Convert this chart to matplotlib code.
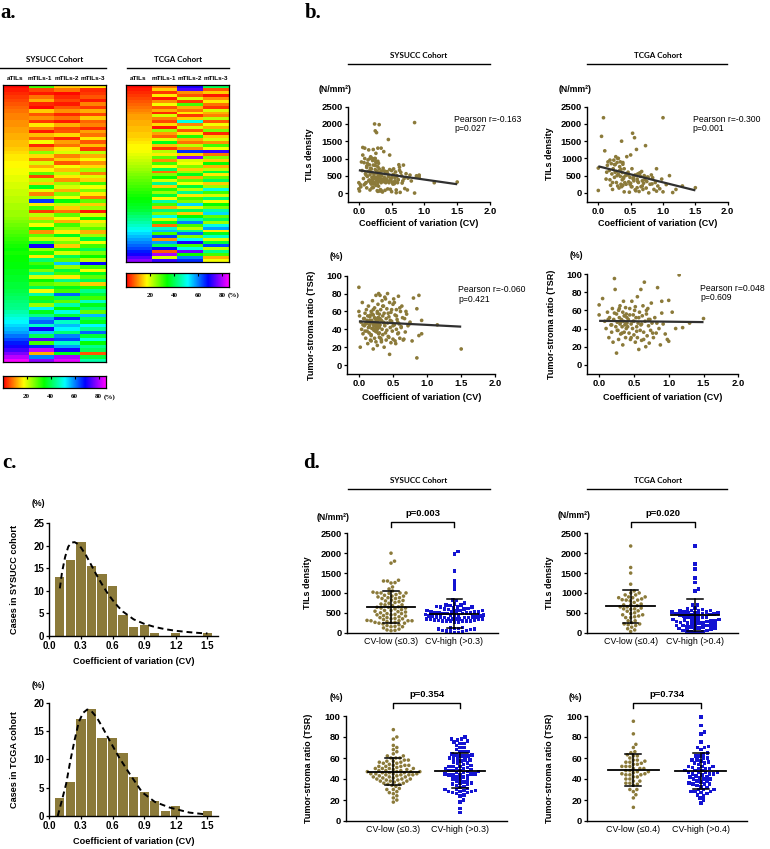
import numpy as np
import matplotlib
matplotlib.use("Agg")
import matplotlib.pyplot as plt
from matplotlib.colors import ListedColormap, hsv_to_rgb
from matplotlib.lines import Line2D
import matplotlib.transforms as mtransforms

plt.rcParams['font.family'] = ['Liberation Sans', 'DejaVu Sans']

# ======================= DATA =======================
heat_columns = ["aTILs", "mTILs-1", "mTILs-2", "mTILs-3"]

sys_atils = [1, 2, 3, 4, 5, 6, 7, 8,
             9, 9, 10, 10, 11, 11, 12, 12, 13, 13, 14, 15,
             16, 16, 17, 17, 18, 18, 19, 19,
             20, 20, 21, 21, 22, 22, 23, 23, 24, 24,
             25, 26, 27, 28, 29, 30, 31, 32, 33, 34,
             33, 34, 34, 35, 35, 36, 36, 37, 37, 38, 38, 39,
             40, 41, 42, 43, 44, 46, 48, 50,
             52, 54, 56, 58, 61, 64,
             67, 70, 73, 77, 81, 85]
sys_m1 = [30, 5, 2, 8, 12, 3, 1, 14, 6, 10, 4, 16, 9, 2, 13, 7, 18, 3, 11, 25,
          15, 8, 20, 12, 17, 28, 5, 22, 14, 36, 19, 9, 24, 65, 16, 30, 4, 22, 13, 26,
          18, 34, 10, 28, 21, 38, 70, 24, 32, 16, 42, 30, 36, 26, 44, 20, 34, 28, 40, 18,
          46, 32, 38, 24, 52, 36, 44, 58, 62, 48, 70, 55, 40, 74, 30, 66, 82, 12, 60, 78]
sys_m2 = [14, 8, 1, 3, 5, 2, 6, 10, 3, 8, 2, 12, 5, 6, 15, 3, 11, 8, 16, 20,
          9, 14, 6, 18, 13, 22, 16, 10, 24, 20, 12, 26, 18, 35, 22, 14, 8, 28, 18, 12,
          30, 24, 16, 36, 20, 26, 14, 32, 20, 40, 28, 55, 24, 38, 30, 16, 44, 26, 36, 30,
          62, 40, 28, 46, 34, 50, 38, 66, 48, 56, 52, 42, 60, 64, 48, 58, 70, 36, 80, 84]
sys_m3 = [16, 3, 4, 6, 2, 9, 4, 12, 5, 14, 7, 9, 3, 11, 8, 16, 6, 13, 4, 22,
          12, 18, 10, 15, 24, 9, 20, 14, 30, 18, 26, 16, 8, 28, 14, 24, 2, 20, 34, 16,
          22, 28, 12, 24, 38, 18, 30, 40, 26, 34, 22, 68, 30, 18, 36, 28, 40, 14, 32, 44,
          38, 30, 48, 36, 42, 28, 56, 40, 36, 52, 44, 62, 38, 50, 34, 44, 40, 6, 38, 46]

tcga_atils = [1, 2, 3, 4, 5, 6, 7, 8, 9, 10, 11, 11, 12, 12, 13, 13, 14, 14, 15, 16,
              17, 17, 18, 19, 20, 21, 22, 23, 24, 25, 26, 27, 28, 29, 30, 31, 32, 33, 34, 35,
              36, 37, 38, 40, 42, 44, 46, 48, 50, 52, 54, 56, 58, 60, 62, 64, 67, 70, 74, 78]
tcga_m1 = [8, 14, 4, 16, 2, 10, 18, 6, 12, 3, 20, 9, 5, 15, 2, 24, 11, 7, 19, 36,
           13, 4, 22, 16, 28, 10, 30, 18, 40, 8, 26, 34, 20, 44, 14, 32, 24, 38, 18, 46,
           30, 12, 42, 26, 50, 20, 36, 8, 48, 56, 30, 64, 10, 58, 40, 68, 6, 80, 20, 72]
tcga_m2 = [70, 74, 10, 6, 20, 4, 30, 12, 8, 16, 4, 14, 50, 9, 20, 6, 16, 32, 12, 8,
           22, 10, 66, 14, 78, 20, 18, 26, 14, 24, 36, 12, 28, 18, 38, 22, 44, 16, 30, 26,
           54, 20, 40, 14, 34, 46, 60, 30, 22, 44, 62, 26, 52, 70, 30, 50, 76, 34, 60, 66]
tcga_m3 = [40, 6, 14, 2, 10, 16, 8, 4, 20, 12, 9, 22, 6, 18, 12, 26, 3, 14, 20, 10,
           30, 18, 72, 8, 26, 14, 34, 12, 22, 38, 16, 28, 40, 14, 24, 50, 30, 20, 42, 18,
           34, 26, 46, 54, 28, 40, 24, 50, 58, 16, 36, 48, 20, 38, 64, 22, 44, 30, 12, 18]

colorbar_ticks = [20, 40, 60, 80]

# SYSUCC cohort: CV, TILs density (N/mm2), tumor-stroma ratio (%)
sys_cv = [0.00, 0.00, 0.01, 0.02, 0.03, 0.04, 0.05, 0.06, 0.07, 0.08,
          0.09, 0.10, 0.10, 0.11, 0.12, 0.12, 0.13, 0.14, 0.14, 0.15,
          0.16, 0.16, 0.17, 0.17, 0.18, 0.18, 0.19, 0.19, 0.20, 0.20,
          0.21, 0.21, 0.22, 0.22, 0.23, 0.23, 0.24, 0.24, 0.25, 0.25,
          0.25, 0.26, 0.26, 0.27, 0.27, 0.27, 0.28, 0.28, 0.28, 0.29,
          0.29, 0.29, 0.30, 0.30, 0.30, 0.30, 0.27, 0.24, 0.21, 0.18,
          0.31, 0.31, 0.32, 0.32, 0.33, 0.33, 0.34, 0.34, 0.35, 0.35,
          0.36, 0.36, 0.37, 0.37, 0.38, 0.38, 0.39, 0.40, 0.40, 0.41,
          0.42, 0.42, 0.43, 0.44, 0.45, 0.45, 0.46, 0.47, 0.47, 0.48,
          0.49, 0.50, 0.50, 0.51, 0.52, 0.53, 0.54, 0.55, 0.55, 0.56,
          0.57, 0.58, 0.59, 0.60, 0.61, 0.62, 0.63, 0.65, 0.67, 0.68,
          0.70, 0.72, 0.75, 0.78, 0.85, 0.85, 0.88, 0.92, 1.15, 1.50,
          0.06, 0.08, 0.09, 0.11, 0.13, 0.15, 0.16, 0.18, 0.19, 0.20,
          0.21, 0.22, 0.23, 0.24, 0.25, 0.26, 0.27, 0.28, 0.29, 0.30,
          0.12, 0.17, 0.22, 0.26, 0.29,
          0.31, 0.33, 0.35, 0.37, 0.39, 0.41, 0.43, 0.44, 0.46, 0.48,
          0.50, 0.52, 0.53, 0.55, 0.57, 0.58, 0.60, 0.62, 0.64, 0.66,
          0.69, 0.74, 0.80, 0.88, 0.92]
sys_tils = [120, 300, 60, 250, 180, 900, 650, 1320, 420, 880,
            1000, 560, 280, 300, 740, 150, 480, 960, 620, 350,
            640, 820, 90, 530, 300, 700, 260, 1020, 450, 600,
            330, 380, 810, 160, 990, 540, 2000, 300, 1000, 680,
            1800, 220, 920, 460, 1750, 580, 70, 240, 400, 760,
            920, 310, 860, 500, 200, 450, 640, 430, 350, 720,
            350, 1980, 60, 600, 100, 420, 300, 1300, 640, 500,
            30, 380, 350, 720, 1200, 330, 450, 80, 560, 400,
            580, 400, 340, 120, 480, 1550, 300, 1100, 680, 420,
            380, 40, 650, 310, 520, 540, 270, 440, 350, 610,
            90, 480, 300, 390, 820, 750, 20, 500, 350, 810,
            130, 560, 430, 520, 2040, 0, 500, 460, 300, 320,
            1100, 240, 1300, 520, 860, 1250, 380, 1050, 700, 150,
            940, 1260, 480, 1000, 800, 1150, 360, 620, 1300, 560,
            780, 1000, 260, 880, 50,
            700, 520, 60, 400, 640, 300, 620, 560, 350, 110,
            450, 260, 700, 320, 10, 500, 380, 660, 600, 290,
            420, 90, 350, 480, 520]
sys_tsr = [87, 60, 55, 20, 48, 40, 70, 35, 52, 44,
           58, 30, 46, 62, 38, 50, 24, 42, 66, 36,
           54, 45, 28, 48, 60, 33, 50, 41, 72, 47,
           18, 56, 39, 44, 64, 30, 46, 52, 26, 43,
           78, 49, 37, 58, 40, 22, 53, 45, 68, 35,
           47, 80, 42, 31, 57, 44, 50, 38, 62, 27,
           45, 78, 30, 62, 50, 26, 72, 40, 55, 34,
           66, 48, 20, 58, 44, 76, 36, 52, 28, 63,
           47, 80, 32, 54, 12, 70, 42, 25, 59, 49,
           38, 68, 29, 74, 45, 56, 24, 62, 40, 51,
           35, 77, 46, 30, 60, 43, 66, 28, 52, 37,
           57, 44, 48, 27, 63, 8, 78, 35, 45, 18,
           45, 52, 38, 47, 55, 43, 50, 34, 48, 57,
           41, 46, 53, 39, 49, 44, 60, 42, 51, 36,
           47, 56, 45, 40, 53,
           52, 28, 66, 47, 74, 39, 58, 31, 50, 62,
           44, 70, 27, 55, 48, 36, 64, 42, 53, 29,
           60, 46, 75, 33, 50]

# TCGA cohort
tcga_cv = [0.00, 0.00, 0.05, 0.08, 0.10, 0.12, 0.14, 0.15, 0.17, 0.18,
           0.19, 0.20, 0.21, 0.22, 0.23, 0.24, 0.25, 0.25, 0.26, 0.27,
           0.28, 0.28, 0.29, 0.30, 0.30, 0.31, 0.32, 0.33, 0.34, 0.34,
           0.35, 0.35, 0.36, 0.37, 0.37, 0.38, 0.38, 0.39, 0.40, 0.40,
           0.42, 0.43, 0.44, 0.45, 0.46, 0.47, 0.48, 0.49, 0.50, 0.50,
           0.51, 0.52, 0.53, 0.54, 0.55, 0.55, 0.56, 0.57, 0.58, 0.59,
           0.60, 0.60, 0.61, 0.62, 0.63, 0.64, 0.65, 0.66, 0.67, 0.68,
           0.69, 0.70, 0.71, 0.72, 0.73, 0.74, 0.75, 0.76, 0.78, 0.80,
           0.82, 0.84, 0.86, 0.88, 0.90, 0.92, 0.95, 0.98, 1.00, 1.00,
           1.05, 1.10, 1.15, 1.30, 1.50,
           0.13, 0.18, 0.22, 0.26, 0.29, 0.31, 0.33, 0.36, 0.38, 0.39,
           0.41, 0.44, 0.46, 0.49, 0.52, 0.54, 0.57, 0.61, 0.64, 0.68,
           0.71, 0.77, 0.83, 0.90, 1.20]
tcga_tils = [720, 70, 1640, 2180, 1220, 400, 800, 900, 650, 380,
             220, 850, 550, 100, 700, 950, 450, 820, 600, 1050,
             300, 620, 880, 200, 1000, 540, 140, 760, 480, 900,
             250, 680, 1500, 380, 590, 220, 830, 420, 30, 700,
             500, 250, 1050, 560, 600, 320, 20, 450, 280, 1100,
             180, 700, 1730, 420, 350, 480, 1600, 520, 60, 1260,
             400, 150, 550, 300, 40, 580, 480, 180, 620, 350,
             100, 280, 500, 380, 1370, 140, 330, 460, 0, 250,
             520, 440, 100, 300, 700, 200, 120, 400, 2180, 30,
             240, 500, 10, 200, 150,
             600, 950, 300, 820, 500, 1000, 650, 180, 880, 450,
             300, 540, 520, 250, 180, 400, 90, 330, 560, 200,
             470, 450, 260, 50, 100]
tcga_tsr = [66, 55, 73, 48, 40, 58, 30, 52, 44, 36,
            62, 25, 50, 95, 83, 42, 13, 56, 47, 38,
            60, 28, 52, 45, 65, 34, 50, 42, 58, 22,
            48, 70, 36, 54, 44, 30, 63, 40, 52, 46,
            50, 35, 62, 28, 45, 70, 40, 55, 33, 48,
            60, 25, 52, 42, 75, 30, 46, 17, 58, 38,
            83, 44, 27, 54, 65, 36, 91, 48, 20, 56,
            32, 62, 43, 24, 50, 38, 68, 46, 30, 52,
            35, 85, 40, 22, 70, 45, 34, 28, 71, 26,
            58, 40, 99, 46, 51,
            50, 44, 57, 38, 62, 47, 35, 54, 45, 56,
            42, 55, 30, 48, 64, 37, 52, 45, 28, 60,
            50, 35, 46, 57, 41]

sys_cut, tcga_cut = 0.3, 0.4

# Histograms (percentage of cases per CV bin)
hist_bins = [0.1, 0.2, 0.3, 0.4, 0.5, 0.6, 0.7, 0.8, 0.9, 1.0, 1.1, 1.2, 1.3, 1.4, 1.5]
sys_hist = [13.1, 16.9, 20.8, 15.4, 13.7, 11.0, 4.5, 1.8, 2.3, 0.6, 0, 0.6, 0, 0, 0.6]
tcga_hist = [3.1, 6.0, 17.2, 18.9, 13.7, 13.7, 11.2, 6.9, 4.3, 2.6, 0.85, 1.7, 0, 0, 0.85]
sys_fit_x = [0.10, 0.12, 0.15, 0.18, 0.21, 0.24, 0.27, 0.30, 0.35, 0.40, 0.45, 0.50,
             0.55, 0.60, 0.65, 0.70, 0.80, 0.90, 1.00, 1.10, 1.20, 1.30, 1.40, 1.50]
sys_fit_y = [10.5, 14.0, 17.5, 19.8, 20.7, 20.8, 20.4, 19.6, 17.8, 15.6, 13.4, 11.4,
             9.5, 7.9, 6.5, 5.3, 3.6, 2.6, 1.9, 1.4, 1.05, 0.8, 0.6, 0.45]
tcga_fit_x = [0.08, 0.12, 0.16, 0.20, 0.24, 0.28, 0.32, 0.36, 0.40, 0.45, 0.50, 0.57,
              0.66, 0.76, 0.88, 1.00, 1.14, 1.33, 1.48]
tcga_fit_y = [0.0, 2.8, 5.7, 9.8, 13.4, 16.6, 18.2, 18.8, 18.5, 17.4, 15.8, 13.4,
              10.4, 7.5, 4.2, 2.5, 1.5, 0.6, 0.3]

cv_ticks = [0.0, 0.5, 1.0, 1.5, 2.0]
hist_ticks = [0.0, 0.3, 0.6, 0.9, 1.2, 1.5]
tils_ticks = [0, 500, 1000, 1500, 2000, 2500]
tsr_ticks = [0, 20, 40, 60, 80, 100]

OLIVE = '#8B7A3A'
BLUE = '#1414D2'

# ======================= FIGURE =======================
W, H = 770, 849
fig = plt.figure(figsize=(W / 100, H / 100), dpi=100)


def add_ax(x0, y0, x1, y1):
    return fig.add_axes([x0 / W, 1 - y1 / H, (x1 - x0) / W, (y1 - y0) / H])


def ftext(x, y, s, **kw):
    kw.setdefault('ha', 'center')
    kw.setdefault('va', 'center')
    fig.text(x / W, 1 - y / H, s, **kw)


def fhline(x0, x1, y, lw=1.0):
    fig.add_artist(Line2D([x0 / W, x1 / W], [1 - y / H, 1 - y / H], color='black',
                          lw=lw, transform=fig.transFigure))


def prism(ax, xlim, ylim, xt, xl, yt, yl, size=6.8):
    ax.set_xlim(*xlim)
    ax.set_ylim(*ylim)
    for s in ('top', 'right'):
        ax.spines[s].set_visible(False)
    for s in ('left', 'bottom'):
        ax.spines[s].set_linewidth(1.0)
    ax.spines['left'].set_bounds(ylim[0], yt[-1])
    ax.set_xticks(xt)
    ax.set_xticklabels(xl)
    ax.set_yticks(yt)
    ax.set_yticklabels(yl)
    ax.tick_params(length=2.4, width=0.9, pad=1.4, labelsize=size)
    for lab in ax.get_xticklabels() + ax.get_yticklabels():
        lab.set_fontweight('bold')
    ax.patch.set_alpha(0)


# ---------- colormap (red -> magenta) ----------
hues = np.linspace(0, 300 / 360, 256)
cmap = ListedColormap(hsv_to_rgb(np.stack([hues, np.ones(256), np.ones(256)], axis=1)))
VMIN, VMAX = 0, 86


def heatmap(box, cols, labels_y, col_lab_x, cbar_box, cbar_lab_y, pct_x):
    ax = add_ax(*box)
    ax.imshow(np.column_stack(cols), aspect='auto', cmap=cmap, vmin=VMIN, vmax=VMAX,
              interpolation='nearest')
    ax.set_xticks([])
    ax.set_yticks([])
    for s in ax.spines.values():
        s.set_linewidth(0.9)
    for name, cx in zip(heat_columns, col_lab_x):
        ftext(cx, labels_y, name, fontsize=4.6, fontweight='bold')
    cax = add_ax(*cbar_box)
    cax.imshow(np.linspace(VMIN, VMAX, 300)[None, :], aspect='auto', cmap=cmap,
               extent=[VMIN, VMAX, 0, 1], vmin=VMIN, vmax=VMAX)
    cax.set_xlim(VMIN, VMAX)
    cax.set_yticks([])
    cax.set_xticks(colorbar_ticks)
    cax.set_xticklabels([str(t) for t in colorbar_ticks])
    cax.tick_params(axis='x', top=True, bottom=False, labelbottom=True, direction='in',
                    length=2.5, width=0.8, pad=4.5, labelsize=5)
    for lab in cax.get_xticklabels():
        lab.set_family(['Liberation Serif'])
        lab.set_fontweight('bold')
    for s in cax.spines.values():
        s.set_linewidth(0.9)
    ftext(pct_x, cbar_lab_y, '(%)', fontsize=5, family=['Liberation Serif'], fontweight='bold')


# ---------------- panel a ----------------
ftext(0, 13, 'a.', ha='left', fontsize=15, family=['Liberation Serif'], fontweight='bold')
ftext(55, 60, 'SYSUCC Cohort', fontsize=5.8, family=['Lato', 'DejaVu Sans'], fontweight='bold')
fhline(0, 106, 68)
ftext(178, 60, 'TCGA Cohort', fontsize=5.8, family=['Lato', 'DejaVu Sans'], fontweight='bold')
fhline(127, 229, 68)
heatmap((2.7, 85, 105.7, 362), [sys_atils, sys_m1, sys_m2, sys_m3], 79,
        [15, 40, 66.5, 92.5], (2.7, 376, 105.7, 388), 397, 110)
heatmap((126, 85, 229, 262), [tcga_atils, tcga_m1, tcga_m2, tcga_m3], 79,
        [138, 164, 190, 216], (126, 273, 229, 287), 295, 234)

# ---------------- panel b ----------------
ftext(305, 13, 'b.', ha='left', fontsize=15, family=['Liberation Serif'], fontweight='bold')
for cx, x0, x1, name in [(419, 348, 490, 'SYSUCC Cohort'), (657.7, 586.7, 727.3, 'TCGA Cohort')]:
    ftext(cx, 56, name, fontsize=5.8, family=['Lato', 'DejaVu Sans'], fontweight='bold')
    fhline(x0, x1, 64.3)

cv_lab = ['%.1f' % t for t in cv_ticks]


def scatter_b(box, cv, val, ylim, yt, ylab_x, ylab, unit, unit_x, unit_y, ptxt, ptx, pty, xlab_y):
    ax = add_ax(*box)
    ax.scatter(cv, val, s=7, color=OLIVE, edgecolors='none', zorder=2)
    k, b = np.polyfit(np.asarray(cv, float), np.asarray(val, float), 1)
    xs = np.array([min(cv), max(cv)])
    ax.plot(xs, k * xs + b, color='#303030', lw=1.6, zorder=3, solid_capstyle='butt')
    prism(ax, (-0.17, 2.0), ylim, cv_ticks, cv_lab, yt, [str(t) for t in yt])
    cy = (box[1] + box[3]) / 2
    ftext(ylab_x, cy, ylab, rotation=90, fontsize=6.5, fontweight='bold')
    ftext((box[0] + box[2]) / 2, xlab_y, 'Coefficient of variation (CV)', fontsize=6.5,
          fontweight='bold')
    ftext(unit_x, unit_y, unit, fontsize=6.3, fontweight='bold')
    ftext(ptx, pty, ptxt[0], ha='left', fontsize=6.2)
    ftext(ptx, pty + 9.5, ptxt[1], ha='left', fontsize=6.2)


scatter_b((347.7, 106.7, 490, 201.7), sys_cv, sys_tils, (-250, 2500), tils_ticks, 310,
          'TILs density', '(N/mm²)', 335, 90, ('Pearson r=-0.163', 'p=0.027'), 454, 119, 224)
scatter_b((587.3, 106.7, 727.7, 201.5), tcga_cv, tcga_tils, (-250, 2500), tils_ticks, 550,
          'TILs density', '(N/mm²)', 575.5, 90, ('Pearson r=-0.300', 'p=0.001'), 692.7, 119, 224)
scatter_b((347.3, 275.7, 495.3, 374), sys_cv, sys_tsr, (-10, 100), tsr_ticks, 311,
          'Tumor-stroma ratio (TSR)', '(%)', 336, 256.7, ('Pearson r=-0.060', 'p=0.421'),
          458.3, 290, 397.7)
scatter_b((587.3, 274, 738.3, 374), tcga_cv, tcga_tsr, (-10, 100), tsr_ticks, 551,
          'Tumor-stroma ratio (TSR)', '(%)', 576, 255, ('Pearson r=0.048', 'p=0.609'),
          700, 288.3, 397.7)

# ---------------- panel c ----------------
ftext(2, 463, 'c.', ha='left', fontsize=15, family=['Liberation Serif'], fontweight='bold')


def hist_c(box, heights, fx, fy, ymax, ylab, xlab_y, pct_y):
    ax = add_ax(*box)
    ax.bar(hist_bins, heights, width=0.088, color=OLIVE, edgecolor='none', zorder=2)
    ax.plot(fx, fy, color='black', lw=1.4, dashes=(3.0, 2.0), zorder=3)
    yt = list(range(0, ymax + 1, 5))
    prism(ax, (0, 1.6), (0, ymax), hist_ticks, ['%.1f' % t for t in hist_ticks],
          yt, [str(t) for t in yt], size=7)
    cy = (box[1] + box[3]) / 2
    ftext(15, cy, ylab, rotation=90, fontsize=6.6, fontweight='bold')
    ftext((box[0] + box[2]) / 2, xlab_y, 'Coefficient of variation (CV)', fontsize=6.6,
          fontweight='bold')
    ftext(38.3, pct_y, '(%)', fontsize=6.3, fontweight='bold')


hist_c((49.3, 523.3, 218, 635.5), sys_hist, sys_fit_x, sys_fit_y, 25,
       'Cases in SYSUCC cohort', 661, 503)
hist_c((49.3, 702.7, 218, 816), tcga_hist, tcga_fit_x, tcga_fit_y, 20,
       'Cases in TCGA cohort', 841.5, 685)

# ---------------- panel d ----------------
ftext(303, 463, 'd.', ha='left', fontsize=15, family=['Liberation Serif'], fontweight='bold')
for cx, x0, x1, name in [(419, 348.3, 490, 'SYSUCC Cohort'), (657.7, 586.7, 727.3, 'TCGA Cohort')]:
    ftext(cx, 480.7, name, fontsize=5.8, family=['Lato', 'DejaVu Sans'], fontweight='bold')
    fhline(x0, x1, 489)


def beeswarm(vals, xppu, yppu, dmin, maxw):
    """Horizontal offsets (data units) so that markers do not overlap, width-limited."""
    vals = np.asarray(vals, float)
    order = np.argsort(vals)
    px, py = [], []
    off = np.zeros(len(vals))
    cands = [0.0]
    k = 1
    while k * 0.5 <= maxw:
        cands += [k * 0.5, -k * 0.5]
        k += 1
    for i in order:
        y = vals[i] * yppu
        near = [(x0, y0) for x0, y0 in zip(px, py) if abs(y - y0) < dmin]
        best_c, best_d = 0.0, -1.0
        for c in cands:
            d = min([np.hypot(c - x0, y - y0) for x0, y0 in near] + [1e9])
            if d >= dmin:
                best_c = c
                break
            if d > best_d:
                best_d, best_c = d, c
        px.append(best_c)
        py.append(y)
        off[i] = best_c / xppu
    return off


def dot_d(box, cv, val, cut, ylim, yt, xlim, ylab_x, ylab, unit, unit_x, unit_y,
          ptxt, grp_names, yb):
    ax = add_ax(*box)
    cv = np.asarray(cv, float)
    val = np.asarray(val, float)
    groups = [val[cv <= cut], val[cv > cut]]
    styles = [('o', OLIVE), ('s', BLUE)]
    xppu = (box[2] - box[0]) / (xlim[1] - xlim[0])
    yppu = (box[3] - box[1]) / (ylim[1] - ylim[0])
    for pos, g, (mk, col), hw in zip([1, 2], groups, styles, [0.40, 0.46]):
        off = beeswarm(g, xppu, yppu, 3.9, hw * xppu)
        ax.scatter(pos + off, g, s=6.5, marker=mk, color=col, edgecolors='none', zorder=2,
                   clip_on=False)
        m, sd = np.mean(g), np.std(g, ddof=1)
        ax.plot([pos - 0.38, pos + 0.38], [m, m], color='black', lw=1.3, zorder=4)
        ax.plot([pos, pos], [max(m - sd, ylim[0]), m + sd], color='black', lw=1.1, zorder=4)
        for yy in (m - sd, m + sd):
            if yy > ylim[0]:
                ax.plot([pos - 0.12, pos + 0.12], [yy, yy], color='black', lw=1.1, zorder=4)
    prism(ax, xlim, ylim, [1, 2], grp_names, yt, [str(t) for t in yt])
    ax.tick_params(axis='x', length=0, pad=3.2)
    for lab in ax.get_xticklabels():
        lab.set_fontweight('normal')
        lab.set_fontsize(6.4)
    tr = mtransforms.blended_transform_factory(ax.transData, ax.transAxes)
    ax.plot([1, 1, 2, 2], [yb[1], yb[0], yb[0], yb[1]], color='black', lw=1.0,
            transform=tr, clip_on=False)
    ax.text(1.5, yb[2], ptxt, transform=tr, ha='center', va='center', fontsize=6.8,
            fontweight='bold')
    cy = (box[1] + box[3]) / 2
    ftext(ylab_x, cy, ylab, rotation=90, fontsize=6.5, fontweight='bold')
    ftext(unit_x, unit_y, unit, fontsize=6.3, fontweight='bold')


dot_d((346.7, 533.3, 498, 632.7), sys_cv, sys_tils, sys_cut, (0, 2500), tils_ticks,
      (0.30, 2.69), 308, 'TILs density', '(N/mm²)', 333, 517.3, 'p=0.003',
      ['CV-low (≤0.3)', 'CV-high (>0.3)'], (1.117, 1.063, 1.20))
dot_d((587.3, 533.3, 738, 632.7), tcga_cv, tcga_tils, tcga_cut, (0, 2500), tils_ticks,
      (0.325, 2.67), 549.5, 'TILs density', '(N/mm²)', 574, 515.7, 'p=0.020',
      ['CV-low (≤0.4)', 'CV-high (>0.4)'], (1.117, 1.063, 1.20))
dot_d((346, 716, 506.7, 821), sys_cv, sys_tsr, sys_cut, (0, 100), tsr_ticks,
      (0.29, 2.70), 308.3, 'Tumor-stroma ratio (TSR)', '(%)', 336, 697.7, 'p=0.354',
      ['CV-low (≤0.3)', 'CV-high (>0.3)'], (1.121, 1.076, 1.207))
dot_d((587.3, 716, 746.7, 821), tcga_cv, tcga_tsr, tcga_cut, (0, 100), tsr_ticks,
      (0.317, 2.68), 549, 'Tumor-stroma ratio (TSR)', '(%)', 575.7, 697.7, 'p=0.734',
      ['CV-low (≤0.4)', 'CV-high (>0.4)'], (1.121, 1.076, 1.207))

fig.savefig('out.png', dpi=100)
